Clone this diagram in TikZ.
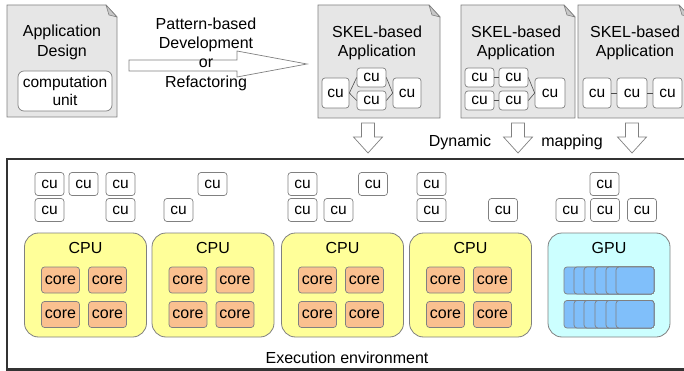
\documentclass[tikz,border=0pt]{standalone}
\usepackage{fontspec}
\setmainfont{Liberation Sans}
\usepackage{tikz}
\usetikzlibrary{arrows}
\tikzset{>=stealth}
\usetikzlibrary{backgrounds}
\usetikzlibrary{shapes,positioning}

\definecolor{docgray}{HTML}{E6E6E6}
\definecolor{foldgray}{HTML}{C8C8C8}
\definecolor{edgegray}{HTML}{808080}
\definecolor{cpuyellow}{HTML}{FFFF99}
\definecolor{coreorange}{HTML}{FAC08F}
\definecolor{gpucyan}{HTML}{CCFFFF}
\definecolor{smblue}{HTML}{80BFFA}
\definecolor{framegray}{HTML}{333333}

\tikzset{
  txt/.style={font=\fontsize{16}{19.3}\selectfont, align=center, inner sep=0pt},
  doc/.style={draw=edgegray, fill=docgray, line width=0.8pt},
  fold/.style={draw=edgegray, fill=foldgray, line width=0.6pt, line join=round},
  cu/.style={draw=edgegray, fill=white, rounded corners=3pt, inner sep=0pt,
    minimum width=29pt, minimum height=23pt, line width=0.7pt,
    font=\fontsize{15.5}{18}\selectfont},
  link/.style={draw=black!70, line width=0.6pt},
  cpu/.style={draw=edgegray, fill=cpuyellow, rounded corners=14pt,
    minimum width=122pt, minimum height=104pt, line width=0.8pt},
  gpu/.style={cpu, fill=gpucyan},
  core/.style={draw=edgegray, fill=coreorange, rounded corners=3pt, inner sep=0pt,
    minimum width=38pt, minimum height=26pt, line width=0.7pt,
    font=\fontsize{16}{18}\selectfont},
  sm/.style={draw=edgegray, fill=smblue, rounded corners=3pt, line width=0.7pt},
  hollow/.style={draw=edgegray, fill=white, line width=0.7pt, line join=miter},
  frame/.style={draw=framegray, line width=2.5pt}
}

% document with a folded corner: left, top, right, bottom
\newcommand{\docpage}[4]{%
  \draw[doc] (#1,#2) -- (#3-11,#2) -- (#3,#2+12) -- (#3,#4) -- (#1,#4) -- cycle;
  \draw[fold] (#3-11,#2) -- (#3-8,#2+10) -- (#3,#2+12) -- cycle;
}

\begin{document}
\begin{tikzpicture}[x=1pt,y=-1pt]

  \useasboundingbox (0,0) rectangle (684,371);


  % design and skeleton documents
  \docpage{7}{5}{117}{117}
  \node[txt] (design) at (62,42.5) {Application\\Design};
  \node[cu, minimum width=94pt, minimum height=40pt, rounded corners=6pt,
    align=center, font=\fontsize{15.5}{17.5}\selectfont] (unit) at (65,91) {computation\\unit};

  \draw[hollow] (129,60) -- (237,60) -- (237,51) -- (307,64) -- (237,77)
    -- (237,71) -- (129,71) -- cycle;
  \node[txt] (pattern) at (206,54) {Pattern-based\\Development\\or\\Refactoring};



  \docpage{318}{5}{440}{118}
  \node[txt] (skel1) at (377,43) {SKEL-based\\Application};
  \node[cu, minimum width=27pt, minimum height=30pt] (d2a) at (335.5,93) {cu};
  \node[cu, minimum height=19pt] (d2b) at (371.5,77.5) {cu};
  \node[cu, minimum height=19pt] (d2c) at (371.5,100.5) {cu};
  \node[cu, minimum width=28pt, minimum height=30pt] (d2d) at (407,93) {cu};
  \draw[link] (d2a.east) -- (d2b.west);
  \draw[link] (d2a.east) -- (d2c.west);
  \draw[link] (d2b.east) -- (d2d.west);
  \draw[link] (d2c.east) -- (d2d.west);

  \docpage{461}{5}{575}{118}
  \node[txt] (skel2) at (516,43) {SKEL-based\\Application};
  \node[cu, minimum height=19pt] (d3a) at (479.5,77.5) {cu};
  \node[cu, minimum height=19pt] (d3b) at (513.5,77.5) {cu};
  \node[cu, minimum height=19pt] (d3c) at (479.5,100.5) {cu};
  \node[cu, minimum height=19pt] (d3d) at (513.5,100.5) {cu};
  \node[cu, minimum width=30pt, minimum height=30pt] (d3e) at (550,93) {cu};
  \draw[link] (d3a.east) -- (d3b.west);
  \draw[link] (d3c.east) -- (d3d.west);
  \draw[link] (d3b.east) -- (d3e.west);
  \draw[link] (d3d.east) -- (d3e.west);

  \docpage{578}{5}{690}{118}
  \node[txt] (skel3) at (635,43) {SKEL-based\\Application};
  \node[cu, minimum width=28pt, minimum height=30pt] (d4a) at (597,93) {cu};
  \node[cu, minimum width=30pt, minimum height=30pt] (d4b) at (632,93) {cu};
  \node[cu, minimum width=29pt, minimum height=30pt] (d4c) at (667.5,93) {cu};
  \draw[link] (d4a.east) -- (d4b.west);
  \draw[link] (d4b.east) -- (d4c.west);


  % mapping arrows
  \foreach \x in {368,518,632}
    \draw[hollow] (\x-6.5,123) -- (\x+6.5,123) -- (\x+6.5,137) -- (\x+14.5,137)
      -- (\x,153) -- (\x-14.5,137) -- (\x-6.5,137) -- cycle;
  \node[txt] (dynamic) at (460,142) {Dynamic};
  \node[txt] (mapping) at (572,142) {mapping};


  % execution environment
  \draw[frame] (7,159) rectangle (720,369.5);
  \node[txt] (exec) at (347,358) {Execution environment};

  \node[cu] (e1) at (49.5,184) {cu};
  \node[cu] (e2) at (83.5,184) {cu};
  \node[cu] (e3) at (120.5,184) {cu};
  \node[cu] (e4) at (49.5,210) {cu};
  \node[cu] (e5) at (120.5,210) {cu};

  \node[cu] (e6) at (212.5,184) {cu};
  \node[cu] (e7) at (178.5,210) {cu};

  \node[cu] (e8) at (302.5,184) {cu};
  \node[cu] (e9) at (373,184) {cu};
  \node[cu] (e10) at (302.5,210) {cu};
  \node[cu] (e11) at (338.5,210) {cu};

  \node[cu] (e12) at (431.5,184) {cu};
  \node[cu] (e13) at (431.5,210) {cu};
  \node[cu] (e14) at (503,210) {cu};

  \node[cu] (e15) at (604.5,184) {cu};
  \node[cu] (e16) at (570.5,210) {cu};
  \node[cu] (e17) at (605,210) {cu};
  \node[cu] (e18) at (642,210) {cu};


  \foreach \c/\cx in {1/85.5,2/213,3/342.5,4/470.5} {
    \node[cpu] (cpu\c) at (\cx,285) {};
    \node[txt] (cpulabel\c) at (\cx,248) {CPU};
    \node[core] (core\c a) at (\cx-25,280) {core};
    \node[core] (core\c b) at (\cx+22,280) {core};
    \node[core] (core\c c) at (\cx-25,314.5) {core};
    \node[core] (core\c d) at (\cx+22,314.5) {core};
  }

  \node[gpu] (gpu) at (609,285) {};
  \node[txt] (gpulabel) at (609,248) {GPU};
  \foreach \l in {564,574,584,595,606,616} {
    \draw[sm] (\l,267) rectangle (654,294);
    \draw[sm] (\l,300.5) rectangle (654,328);
  }

\end{tikzpicture}
\end{document}
